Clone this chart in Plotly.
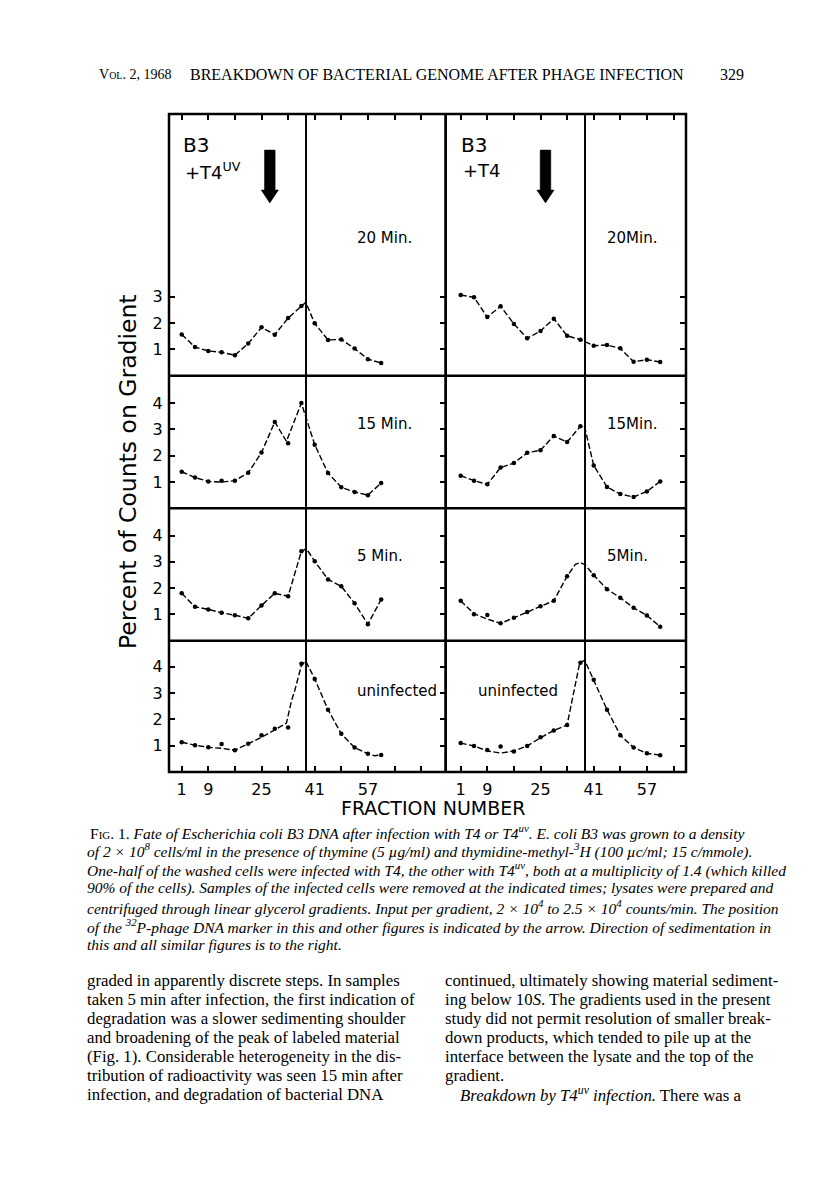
import plotly.graph_objects as go

# ---------------- data ----------------
FRACTIONS = list(range(1, 62, 4))              # sampled fractions (dots)
TICK_FRACTIONS = list(range(1, 80, 8))         # 1, 9, 17, ... 73
TICK_LABELED = [1, 9, 25, 41, 57]
PEAK_LINE_FRACTION = 38.4                      # thin vertical reference line
MARKER_FRACTION = [27.5, 26.5]                 # 32P-phage DNA marker (arrow), T4uv / T4

# dots (percent of counts on gradient) at FRACTIONS
dots_20_uv = [1.57, 1.09, 0.94, 0.89, 0.78, 1.22, 1.84, 1.56, 2.19, 2.65, 1.99, 1.36, 1.38, 1.03, 0.63, 0.48]
dots_20_t4 = [3.07, 2.98, 2.23, 2.64, 1.97, 1.42, 1.70, 2.17, 1.52, 1.37, 1.14, 1.17, 1.04, 0.53, 0.61, 0.52]
dots_15_uv = [1.39, 1.17, 1.02, 1.05, 1.05, 1.35, 2.12, 3.28, 2.47, 4.00, 2.42, 1.34, 0.80, 0.62, 0.50, 0.96]
dots_15_t4 = [1.24, 1.05, 0.91, 1.55, 1.72, 2.11, 2.21, 2.75, 2.52, 3.12, 1.63, 0.81, 0.54, 0.43, 0.64, 1.02]
dots_5_uv = [1.80, 1.29, 1.19, 1.06, 0.97, 0.85, 1.34, 1.80, 1.69, 3.40, 3.02, 2.33, 2.07, 1.42, 0.63, 1.57]
dots_5_t4 = [1.52, 1.01, 0.98, 0.66, 0.87, 1.09, 1.31, 1.52, 2.45, None, 2.49, 1.96, 1.63, 1.25, 0.96, 0.53]
dots_un_uv = [1.13, 1.02, 0.94, 1.06, 0.83, 1.07, 1.40, 1.64, 1.69, 4.12, 3.54, 2.37, 1.45, 0.93, 0.69, 0.65]
dots_un_t4 = [1.10, 0.99, 0.84, 0.97, 0.78, 0.99, 1.32, 1.58, 1.79, 4.15, 3.51, 2.37, 1.40, 0.93, 0.71, 0.64]

# hand-drawn curves through the points
curve_20_uv_x = [1, 5, 9, 13, 17, 21, 25, 29, 33, 37, 38.3, 41, 45, 49, 53, 57, 61]
curve_20_uv_y = [1.57, 1.09, 0.94, 0.89, 0.78, 1.22, 1.84, 1.56, 2.19, 2.65, 2.79, 1.99, 1.36, 1.38, 1.03, 0.63, 0.48]
curve_20_t4_x = FRACTIONS
curve_20_t4_y = dots_20_t4
curve_15_uv_x = [1, 5, 9, 13, 17, 21, 25, 29, 32.5, 37, 41, 45, 49, 53, 57, 61]
curve_15_uv_y = [1.39, 1.17, 1.02, 1.00, 1.05, 1.35, 2.12, 3.28, 2.55, 4.00, 2.42, 1.34, 0.80, 0.62, 0.50, 0.96]
curve_15_t4_x = [1, 5, 9, 13, 17, 21, 25, 29, 33, 37, 38.2, 41, 45, 49, 53, 57, 61]
curve_15_t4_y = [1.24, 1.05, 0.91, 1.55, 1.72, 2.11, 2.21, 2.75, 2.52, 3.12, 3.13, 1.63, 0.81, 0.54, 0.43, 0.64, 1.02]
curve_5_uv_x = [1, 5, 9, 13, 17, 21, 25, 29, 33, 37, 38.5, 41, 45, 49, 53, 57, 61]
curve_5_uv_y = [1.80, 1.29, 1.19, 1.06, 0.97, 0.85, 1.34, 1.80, 1.69, 3.40, 3.50, 3.02, 2.33, 2.07, 1.42, 0.63, 1.57]
curve_5_t4_x = [1, 5, 9, 13, 17, 21, 25, 29, 33, 35.5, 37, 38.5, 41, 45, 49, 53, 57, 61]
curve_5_t4_y = [1.52, 1.03, 0.82, 0.66, 0.87, 1.09, 1.31, 1.52, 2.45, 2.90, 2.97, 2.88, 2.49, 1.96, 1.63, 1.25, 0.96, 0.53]
curve_un_uv_x = [1, 5, 9, 13, 17, 21, 25, 29, 32.5, 34, 35, 37, 38.3, 41, 45, 49, 53, 57, 59, 61]
curve_un_uv_y = [1.13, 1.02, 0.94, 0.90, 0.83, 1.07, 1.32, 1.60, 1.86, 2.70, 3.10, 4.05, 4.22, 3.54, 2.37, 1.45, 0.93, 0.69, 0.62, 0.65]
curve_un_t4_x = [1, 5, 9, 13, 17, 21, 25, 29, 33, 35, 36.8, 38.3, 41, 45, 49, 53, 57, 61]
curve_un_t4_y = [1.10, 0.99, 0.80, 0.72, 0.80, 0.99, 1.30, 1.58, 1.79, 3.00, 4.15, 4.25, 3.51, 2.37, 1.40, 0.93, 0.71, 0.64]

LEFT_TIME_LABELS = ["20 Min.", "15 Min.", "5 Min.", "uninfected"]
RIGHT_TIME_LABELS = ["20Min.", "15Min.", "5Min.", "uninfected"]
Y_TICKS = [[1, 2, 3], [1, 2, 3, 4], [1, 2, 3, 4], [1, 2, 3, 4]]

panels = [
    # (row, col, dots, curve_x, curve_y)
    (0, 0, dots_20_uv, curve_20_uv_x, curve_20_uv_y),
    (0, 1, dots_20_t4, curve_20_t4_x, curve_20_t4_y),
    (1, 0, dots_15_uv, curve_15_uv_x, curve_15_uv_y),
    (1, 1, dots_15_t4, curve_15_t4_x, curve_15_t4_y),
    (2, 0, dots_5_uv, curve_5_uv_x, curve_5_uv_y),
    (2, 1, dots_5_t4, curve_5_t4_x, curve_5_t4_y),
    (3, 0, dots_un_uv, curve_un_uv_x, curve_un_uv_y),
    (3, 1, dots_un_t4, curve_un_t4_x, curve_un_t4_y),
]

# ---------------- layout geometry (page pixels) ----------------
W, H = 816, 1192
OFF = 8                      # page body margin of the html page
ROW_EDGES = [114, 375.7, 508.3, 640.7, 772]
COL_EDGES = [169, 445.5, 686]
PX_PER_FRACTION = 3.325
PX_PER_UNIT = 26.3
FRACTION1_PX = [181.7, 460.7]

def pxx(x):
    return (x - OFF) / W

def pxy(y):
    return 1 - (y - OFF) / H

CHART_FONT = "DejaVu Sans"
SERIF = "Liberation Serif"

fig = go.Figure()
layout = dict(
    width=W, height=H, margin=dict(l=0, r=0, t=0, b=0),
    paper_bgcolor="white", plot_bgcolor="white", showlegend=False,
    font=dict(family=CHART_FONT, color="black"),
)

shapes = []
annotations = []
minor_ticks = [v for v in TICK_FRACTIONS if v not in TICK_LABELED]

for (row, col, dots, cx, cy) in panels:
    n = row * 2 + col + 1
    xname = "x" if n == 1 else f"x{n}"
    yname = "y" if n == 1 else f"y{n}"
    xkey = "xaxis" if n == 1 else f"xaxis{n}"
    ykey = "yaxis" if n == 1 else f"yaxis{n}"

    x0p, x1p = COL_EDGES[col], COL_EDGES[col + 1]
    y0p, y1p = ROW_EDGES[row], ROW_EDGES[row + 1]
    f1 = FRACTION1_PX[col]
    xr = [1 + (x0p - f1) / PX_PER_FRACTION, 1 + (x1p - f1) / PX_PER_FRACTION]
    yr = [0, (y1p - y0p) / PX_PER_UNIT]

    xa = dict(domain=[pxx(x0p), pxx(x1p)], range=xr, anchor=yname,
              showgrid=False, zeroline=False, showline=True, linecolor="black",
              linewidth=1, mirror=True, fixedrange=True,
              tickmode="array", tickvals=TICK_LABELED,
              ticktext=[str(v) for v in TICK_LABELED],
              ticklen=6, tickwidth=1.5, tickcolor="black",
              showticklabels=False, ticks="")
    if row in (0, 3):
        xa.update(ticks="inside",
                  minor=dict(tickmode="array", tickvals=minor_ticks, ticks="inside",
                             ticklen=6, tickwidth=1.5, tickcolor="black", showgrid=False))
    if row == 3:
        xa.update(showticklabels=True,
                  tickfont=dict(size=16, family=CHART_FONT, color="black"),
                  ticklabelstandoff=3)
    if row == 0:
        xa.update(side="top")
    ya = dict(domain=[pxy(y1p), pxy(y0p)], range=yr, anchor=xname,
              showgrid=False, zeroline=False, showline=True, linecolor="black",
              linewidth=1, fixedrange=True,
              tickvals=Y_TICKS[row], ticks="inside", ticklen=6, tickwidth=1.5,
              tickcolor="black", tickfont=dict(size=16, family=CHART_FONT, color="black"))
    if col == 0:
        ya.update(mirror="ticks", showticklabels=True, ticklabelstandoff=2)
    else:
        ya.update(side="right", mirror=True, showticklabels=False)
    layout[xkey] = xa
    layout[ykey] = ya

    fig.add_trace(go.Scatter(x=cx, y=cy, xaxis=xname, yaxis=yname, mode="lines",
                             line=dict(color="black", width=1.4, dash="6px,2.5px"),
                             hoverinfo="skip"))
    fig.add_trace(go.Scatter(x=FRACTIONS, y=dots, xaxis=xname, yaxis=yname, mode="markers",
                             marker=dict(color="black", size=4.5), hoverinfo="skip"))

    # thin vertical reference line through every row
    shapes.append(dict(type="line", xref=xname, yref="paper", x0=PEAK_LINE_FRACTION,
                       x1=PEAK_LINE_FRACTION, y0=pxy(ROW_EDGES[-1]), y1=pxy(ROW_EDGES[0]),
                       line=dict(color="black", width=1.2), layer="above"))

    # time labels
    labels = LEFT_TIME_LABELS if col == 0 else RIGHT_TIME_LABELS
    label_y = [238, 424, 556, 691][row]
    if col == 0:
        lx, anchor = (355 if row < 3 else 439), ("left" if row < 3 else "right")
    else:
        lx, anchor = (605 if row < 3 else 476), "left"
    annotations.append(dict(text=labels[row], x=pxx(lx), y=pxy(label_y), xref="paper",
                            yref="paper", xanchor=anchor, yanchor="middle", showarrow=False,
                            font=dict(size=15, family=CHART_FONT, color="black")))

    # marker arrow in the top row
    if row == 0:
        m = MARKER_FRACTION[col]
        sw, hw = 1.6, 2.6
        top, base, tip = 8.58, 7.06, 6.57
        path = (f"M {m-sw},{top} L {m+sw},{top} L {m+sw},{base} L {m+hw},{base} "
                f"L {m},{tip} L {m-hw},{base} L {m-sw},{base} Z")
        shapes.append(dict(type="path", xref=xname, yref=yname, path=path,
                           fillcolor="black", line=dict(color="black", width=0.5)))

# thick frame and dividers
FRAME_W = 2.5
shapes.append(dict(type="rect", xref="paper", yref="paper", x0=pxx(COL_EDGES[0]),
                   x1=pxx(COL_EDGES[-1]), y0=pxy(ROW_EDGES[-1]), y1=pxy(ROW_EDGES[0]),
                   line=dict(color="black", width=FRAME_W), layer="above"))
shapes.append(dict(type="line", xref="paper", yref="paper", x0=pxx(COL_EDGES[1]),
                   x1=pxx(COL_EDGES[1]), y0=pxy(ROW_EDGES[-1]), y1=pxy(ROW_EDGES[0]),
                   line=dict(color="black", width=FRAME_W), layer="above"))
for yy in ROW_EDGES[1:-1]:
    shapes.append(dict(type="line", xref="paper", yref="paper", x0=pxx(COL_EDGES[0]),
                       x1=pxx(COL_EDGES[-1]), y0=pxy(yy), y1=pxy(yy),
                       line=dict(color="black", width=FRAME_W), layer="above"))

# strain labels
for col, (bx, strain) in enumerate([(181, "+T4<sup>UV</sup>"), (459, "+T4")]):
    annotations.append(dict(text="B3", x=pxx(bx), y=pxy(145), xref="paper", yref="paper",
                            xanchor="left", yanchor="middle", showarrow=False,
                            font=dict(size=20, family=CHART_FONT, color="black")))
    annotations.append(dict(text=strain, x=pxx(bx + 2), y=pxy(171), xref="paper", yref="paper",
                            xanchor="left", yanchor="middle", showarrow=False,
                            font=dict(size=18, family=CHART_FONT, color="black")))

# axis titles
annotations.append(dict(text="Percent of Counts on Gradient", x=pxx(128), y=pxy(472),
                        xref="paper", yref="paper", textangle=-90, showarrow=False,
                        xanchor="center", yanchor="middle",
                        font=dict(size=23.5, family=CHART_FONT, color="black")))
annotations.append(dict(text="FRACTION NUMBER", x=pxx(433), y=pxy(808), xref="paper",
                        yref="paper", showarrow=False, xanchor="center", yanchor="middle",
                        font=dict(size=19, family=CHART_FONT, color="black")))

# page text
def page_text(text, x, y, size=13.5, anchor="left"):
    annotations.append(dict(text=text, x=pxx(x), y=pxy(y), xref="paper", yref="paper",
                            xanchor=anchor, yanchor="middle", showarrow=False,
                            font=dict(size=size, family=SERIF, color="black")))

page_text("V<span style='font-size:10px'>OL</span>. 2, 1968", 97, 75, 14)
page_text("BREAKDOWN OF BACTERIAL GENOME AFTER PHAGE INFECTION", 188, 75, 16)
page_text("329", 746, 75, 16, anchor="right")

caption = [
    "F<span style='font-size:11px'>IG</span>. 1. <i>Fate of Escherichia coli B3 DNA after infection with T4 or T4<sup>uv</sup>. E. coli B3 was grown to a density</i>",
    "<i>of 2 × 10<sup>8</sup> cells/ml in the presence of thymine (5 µg/ml) and thymidine-methyl-<sup>3</sup>H (100 µc/ml; 15 c/mmole).</i>",
    "<i>One-half of the washed cells were infected with T4, the other with T4<sup>uv</sup>, both at a multiplicity of 1.4 (which killed</i>",
    "<i>90% of the cells). Samples of the infected cells were removed at the indicated times; lysates were prepared and</i>",
    "<i>centrifuged through linear glycerol gradients. Input per gradient, 2 × 10<sup>4</sup> to 2.5 × 10<sup>4</sup> counts/min. The position</i>",
    "<i>of the <sup>32</sup>P-phage DNA marker in this and other figures is indicated by the arrow. Direction of sedimentation in</i>",
    "<i>this and all similar figures is to the right.</i>",
]
for i, line in enumerate(caption):
    page_text(line, 88 if i == 0 else 85, 832 + i * 18.8, 15.5)

left_col = [
    "graded in apparently discrete steps. In samples",
    "taken 5 min after infection, the first indication of",
    "degradation was a slower sedimenting shoulder",
    "and broadening of the peak of labeled material",
    "(Fig. 1). Considerable heterogeneity in the dis-",
    "tribution of radioactivity was seen 15 min after",
    "infection, and degradation of bacterial DNA",
]
right_col = [
    "continued, ultimately showing material sediment-",
    "ing below 10<i>S</i>. The gradients used in the present",
    "study did not permit resolution of smaller break-",
    "down products, which tended to pile up at the",
    "interface between the lysate and the top of the",
    "gradient.",
    "<i>Breakdown by T4<sup>uv</sup> infection.</i> There was a",
]
for i, line in enumerate(left_col):
    page_text(line, 85, 980 + i * 19, 16.8)
for i, line in enumerate(right_col):
    page_text(line, 458 if i == 6 else 443, 980 + i * 19, 16.8)

layout["shapes"] = shapes
layout["annotations"] = annotations
fig.update_layout(**layout)
fig.write_html("out.html")
